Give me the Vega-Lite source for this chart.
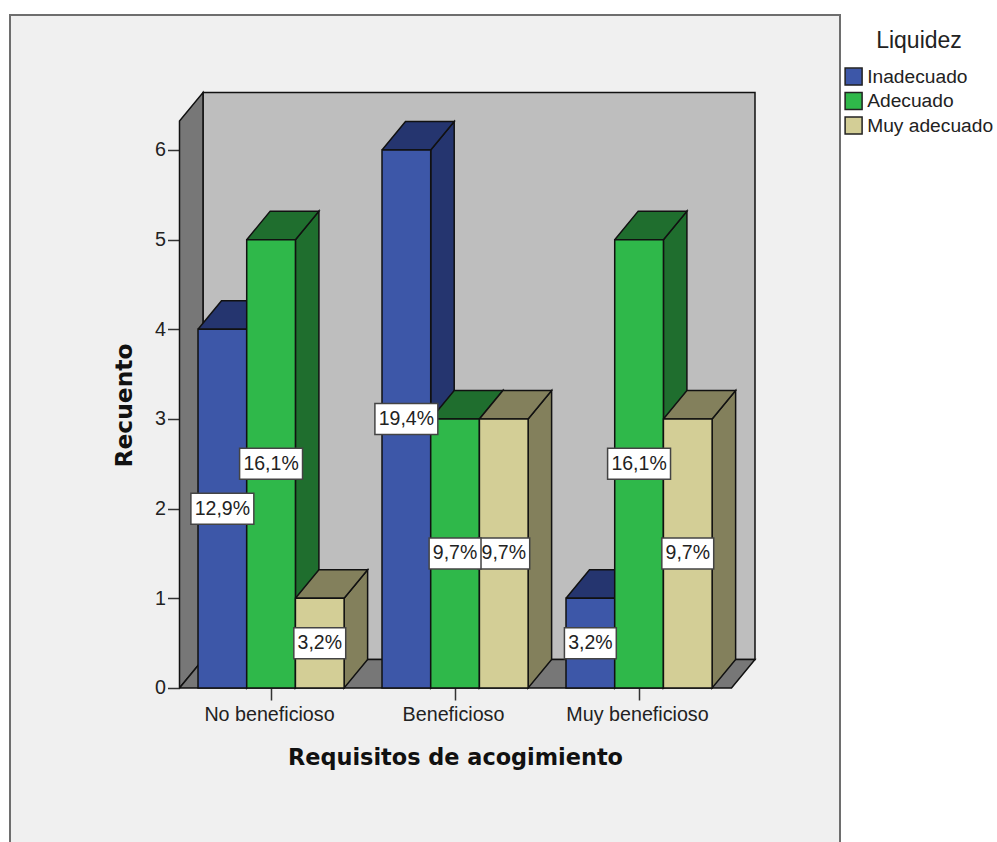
{
"$schema":"https://vega.github.io/schema/vega-lite/v6.json",
"width":830,"height":832,
"autosize":{"type":"none"},
"padding":{"left":10,"top":15,"right":157,"bottom":0},
"background":"#ffffff",
"view":{"fill":"#f0f0f0","stroke":"#6e6e6e","strokeWidth":2},
"data":{"values":[
{"grupo":"No beneficioso","serie":"Inadecuado","recuento":4,"porcentaje":"12,9%"},
{"grupo":"No beneficioso","serie":"Adecuado","recuento":5,"porcentaje":"16,1%"},
{"grupo":"No beneficioso","serie":"Muy adecuado","recuento":1,"porcentaje":"3,2%"},
{"grupo":"Beneficioso","serie":"Inadecuado","recuento":6,"porcentaje":"19,4%"},
{"grupo":"Beneficioso","serie":"Adecuado","recuento":3,"porcentaje":"9,7%"},
{"grupo":"Beneficioso","serie":"Muy adecuado","recuento":3,"porcentaje":"9,7%"},
{"grupo":"Muy beneficioso","serie":"Inadecuado","recuento":1,"porcentaje":"3,2%"},
{"grupo":"Muy beneficioso","serie":"Adecuado","recuento":5,"porcentaje":"16,1%"},
{"grupo":"Muy beneficioso","serie":"Muy adecuado","recuento":3,"porcentaje":"9,7%"}
]},
"transform":[
{"calculate":"indexof(['No beneficioso','Beneficioso','Muy beneficioso'],datum.grupo)+1","as":"gi"},
{"calculate":"indexof(['Inadecuado','Adecuado','Muy adecuado'],datum.serie)","as":"si"},
{"calculate":"datum.gi-0.3967+datum.si*0.2647","as":"xl"},
{"calculate":"datum.xl+0.2647","as":"xr"},
{"calculate":"(datum.xl+datum.xr)/2","as":"xm"},
{"calculate":"datum.recuento/2","as":"ym"},
{"calculate":"length(datum.porcentaje)>4?0.171:0.141","as":"hw"},
{"calculate":"datum.xm-datum.hw","as":"bx0"},
{"calculate":"datum.xm+datum.hw","as":"bx1"},
{"calculate":"datum.ym-0.173","as":"by0"},
{"calculate":"datum.ym+0.173","as":"by1"},
{"calculate":"0","as":"base"}
],
"layer":[
{"data":{"values":[
{"cara":"fondo","v":0,"x":0.6304,"y":0.318},
{"cara":"fondo","v":1,"x":3.6304,"y":0.318},
{"cara":"fondo","v":2,"x":3.6304,"y":6.641},
{"cara":"fondo","v":3,"x":0.6304,"y":6.641},
{"cara":"fondo","v":4,"x":0.6304,"y":0.318},
{"cara":"izquierda","v":0,"x":0.5027,"y":0},
{"cara":"izquierda","v":1,"x":0.6304,"y":0.318},
{"cara":"izquierda","v":2,"x":0.6304,"y":6.641},
{"cara":"izquierda","v":3,"x":0.5027,"y":6.323},
{"cara":"izquierda","v":4,"x":0.5027,"y":0},
{"cara":"suelo","v":0,"x":0.5027,"y":0},
{"cara":"suelo","v":1,"x":3.5027,"y":0},
{"cara":"suelo","v":2,"x":3.6304,"y":0.318},
{"cara":"suelo","v":3,"x":0.6304,"y":0.318},
{"cara":"suelo","v":4,"x":0.5027,"y":0}
]},
"mark":{"type":"line","stroke":"#111111","strokeWidth":1.5,"clip":false},
"encoding":{
"x":{"field":"x","type":"quantitative","scale":{"domain":[-0.4185,4.0924],"nice":false,"zero":false},
"axis":{"offset":-159,"orient":"bottom","grid":false,"domain":false,"values":[1,2,3],
"labelExpr":"datum.value==1?'No beneficioso':datum.value==2?'Beneficioso':'Muy beneficioso'",
"tickSize":12,"tickColor":"#333333","tickWidth":1.5,"labelPadding":4,"labelOffset":-2,"labelFont":"Liberation Sans","labelFontSize":19.7,"labelColor":"#222222",
"title":"Requisitos de acogimiento","titleFont":"DejaVu Sans","titleFontWeight":"bold","titleFontSize":22.4,"titleColor":"#111111","titleX":445,"titleY":69,"titleBaseline":"middle","titleAlign":"center"}},
"y":{"field":"y","type":"quantitative","scale":{"domain":[-1.7732,7.5053],"nice":false,"zero":false},
"axis":{"offset":-169.5,"orient":"left","grid":false,"domain":false,"values":[0,1,2,3,4,5,6],"format":"d",
"tickSize":12,"tickColor":"#333333","tickWidth":1.5,"labelPadding":2,"labelFont":"Liberation Sans","labelFontSize":19.7,"labelColor":"#222222",
"title":"Recuento","titleFont":"DejaVu Sans","titleFontWeight":"bold","titleFontSize":23.4,"titleColor":"#111111","titleX":-55,"titleY":390,"titleAngle":-90,"titleBaseline":"middle","titleAlign":"center"}},
"order":{"field":"v","type":"quantitative"},
"fill":{"field":"cara","type":"nominal","legend":null,"scale":{"domain":["fondo","izquierda","suelo"],"range":["#bebebe","#777777","#777777"]}},
"detail":{"field":"cara","type":"nominal"}
}},
{"transform":[
{"calculate":"[{c:'l',i:0,w:1,d:0,f:1},{c:'l',i:1,w:1,d:1,f:1},{c:'l',i:2,w:1,d:1,f:0},{c:'l',i:3,w:1,d:0,f:0},{c:'l',i:4,w:1,d:0,f:1},{c:'t',i:0,w:0,d:0,f:1},{c:'t',i:1,w:1,d:0,f:1},{c:'t',i:2,w:1,d:1,f:1},{c:'t',i:3,w:0,d:1,f:1},{c:'t',i:4,w:0,d:0,f:1}]","as":"vs"},
{"flatten":["vs"]},
{"calculate":"datum.xl+datum.vs.w*0.2647+datum.vs.d*0.1277","as":"px"},
{"calculate":"datum.recuento*datum.vs.f+datum.vs.d*0.318","as":"py"},
{"calculate":"datum.grupo+'|'+datum.serie+'|'+datum.vs.c","as":"cara"},
{"calculate":"datum.vs.i","as":"v"}
],
"mark":{"type":"line","stroke":"#111111","strokeWidth":1.5},
"encoding":{
"x":{"field":"px","type":"quantitative"},
"y":{"field":"py","type":"quantitative"},
"order":{"field":"v","type":"quantitative"},
"detail":{"field":"cara","type":"nominal"},
"fill":{"field":"serie","type":"nominal","legend":null,"scale":{"domain":["Inadecuado","Adecuado","Muy adecuado"],"range":["#25356f","#1f6e2e","#83805c"]}}
}},
{"mark":{"type":"rect","stroke":"#111111","strokeWidth":1.5},
"encoding":{
"x":{"field":"xl","type":"quantitative"},"x2":{"field":"xr"},
"y":{"field":"base","type":"quantitative"},"y2":{"field":"recuento"},
"fill":{"field":"serie","type":"nominal","scale":{"domain":["Inadecuado","Adecuado","Muy adecuado"],"range":["#3d57a8","#2fb84a","#d3ce96"]},
"legend":{"orient":"none","legendX":834,"legendY":15,"title":"Liquidez","titleFont":"Liberation Sans","titleFontSize":23,"titleFontWeight":"normal","titleColor":"#222222","titleAnchor":"middle","titlePadding":14,"symbolType":"square","symbolSize":289,"symbolStrokeColor":"#222222","symbolStrokeWidth":1.5,"labelFont":"Liberation Sans","labelFontSize":19.2,"labelColor":"#222222","labelOffset":4,"rowPadding":0.5}}
}},
{"transform":[{"filter":"datum.si==2"}],"mark":{"type":"rect","fill":"#ffffff","stroke":"#444444","strokeWidth":1.5},
"encoding":{"x":{"field":"bx0","type":"quantitative"},"x2":{"field":"bx1"},"y":{"field":"by0","type":"quantitative"},"y2":{"field":"by1"}}},
{"transform":[{"filter":"datum.si==2"}],"mark":{"type":"text","font":"Liberation Sans","fontSize":19.5,"fill":"#222222","baseline":"middle","align":"center"},
"encoding":{"x":{"field":"xm","type":"quantitative"},"y":{"field":"ym","type":"quantitative"},"text":{"field":"porcentaje","type":"nominal"}}},
{"transform":[{"filter":"datum.si<2"}],"mark":{"type":"rect","fill":"#ffffff","stroke":"#444444","strokeWidth":1.5},
"encoding":{"x":{"field":"bx0","type":"quantitative"},"x2":{"field":"bx1"},"y":{"field":"by0","type":"quantitative"},"y2":{"field":"by1"}}},
{"transform":[{"filter":"datum.si<2"}],"mark":{"type":"text","font":"Liberation Sans","fontSize":19.5,"fill":"#222222","baseline":"middle","align":"center"},
"encoding":{"x":{"field":"xm","type":"quantitative"},"y":{"field":"ym","type":"quantitative"},"text":{"field":"porcentaje","type":"nominal"}}}
],
"resolve":{"scale":{"fill":"independent"}}
}
